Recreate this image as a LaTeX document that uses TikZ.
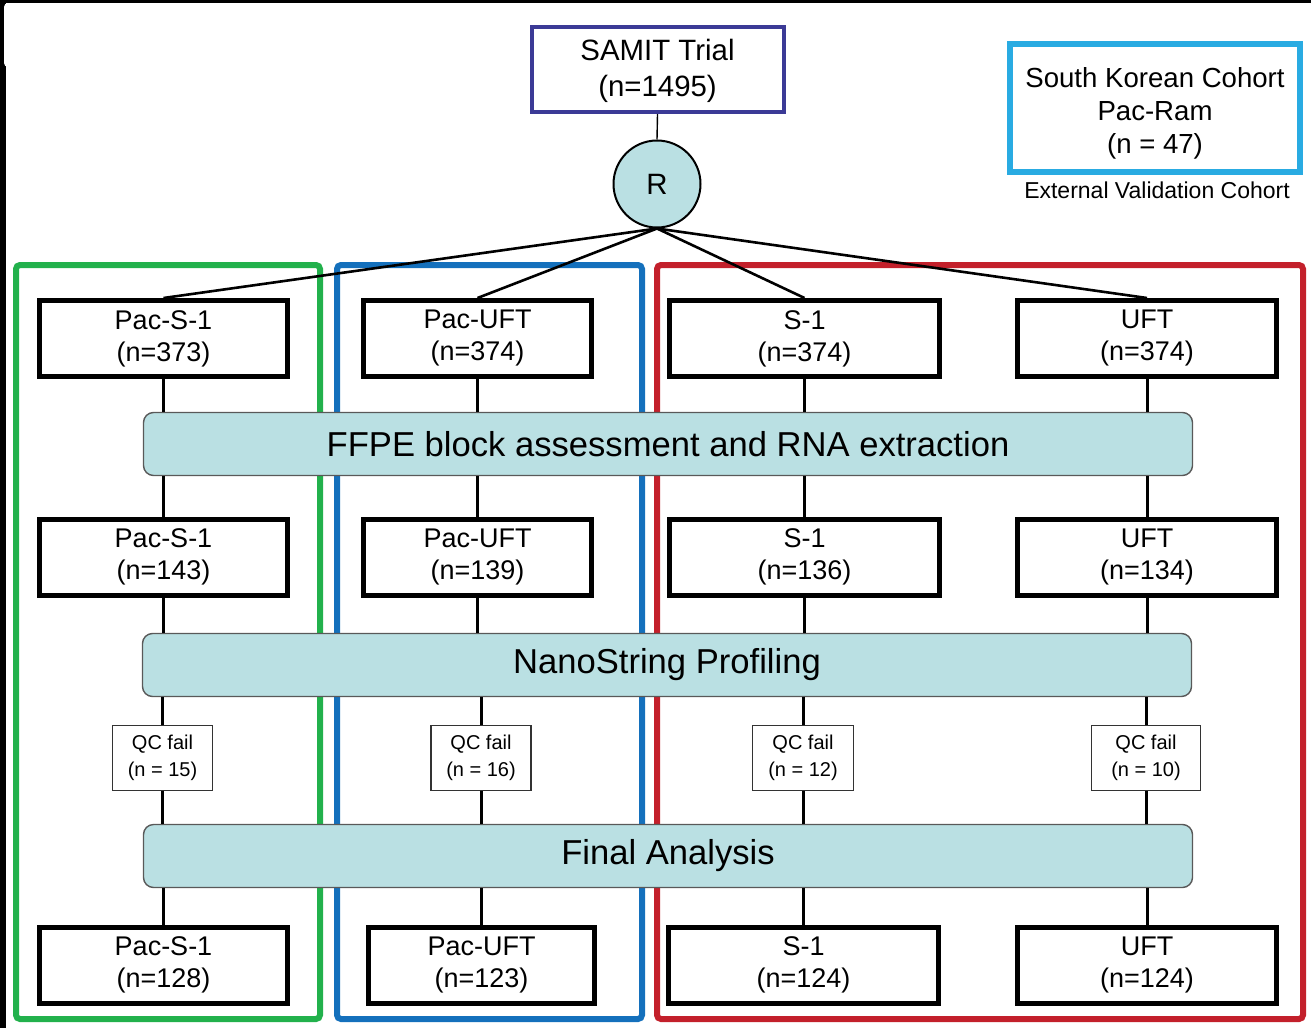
\documentclass[tikz,border=0pt]{standalone}
\usepackage{fontspec}
\setmainfont{Liberation Sans}
\usetikzlibrary{positioning}
\definecolor{barfill}{HTML}{BAE0E3}
\definecolor{samitblue}{HTML}{3B3A96}
\definecolor{cohortblue}{HTML}{29ABE2}
\definecolor{armgreen}{HTML}{22B14C}
\definecolor{armblue}{HTML}{1470BC}
\definecolor{armred}{HTML}{C3202B}

\begin{document}
\begin{tikzpicture}[
    x=0.5pt, y=-0.5pt,
    arm/.style={draw, line width=2.5pt, minimum height=38pt, align=center, inner sep=0pt,
        font=\fontsize{13.5}{16}\selectfont},
    bar/.style={draw=black!65, fill=barfill, rounded corners=5pt, line width=0.7pt, inner sep=0pt,
        minimum width=524.5pt, minimum height=31.5pt, font=\fontsize{17.3}{20}\selectfont},
    qc/.style={draw=black!80, fill=white, line width=0.6pt, minimum height=32.5pt, align=center,
        inner sep=0pt, font=\fontsize{10}{13.5}\selectfont},
    armframe/.style={line width=3pt, rounded corners=2pt},
    link/.style={line width=1.5pt},
    split/.style={line width=1.3pt},
]
\useasboundingbox (0,0) rectangle (1311,1028);
\fill[black] (0,0) rectangle (1311,1028);
\fill[white] (6,3) rectangle (1311,1028);
\fill[white, rounded corners=2pt] (4,3) rectangle (40,67);

% treatment arms
\draw[armframe, armgreen] (16,265) rectangle (320,1019);
\draw[armframe, armblue] (337,265) rectangle (642,1019);
\draw[armframe, armred] (657,265) rectangle (1303,1019);

\node[draw=samitblue, line width=2pt, minimum width=126pt, minimum height=42.5pt, align=center,
    font=\fontsize{14.7}{18}\selectfont] (samit) at (657.5,69.5) {\rule{0pt}{12pt}SAMIT Trial\\(n=1495)};
\node[circle, draw, fill=barfill, line width=1pt, minimum size=43.5pt, inner sep=0pt,
    font=\fontsize{14.7}{18}\selectfont] (rnd) at (657,184) {R};
\node[draw=cohortblue, line width=3pt, minimum width=145pt, minimum height=64pt, align=center,
    font=\fontsize{13.8}{16.5}\selectfont] (korea) at (1155,108) {\rule{0pt}{15.5pt}South Korean Cohort\\Pac-Ram\\(n = 47)};
\node[font=\fontsize{11.5}{14}\selectfont] (extval) at (1157,190) {External Validation Cohort};

\node[arm, minimum width=124pt] (ps1a) at (163.5,338.5) {Pac-S-1\\(n=373)};
\node[arm, minimum width=114pt] (pufta) at (477.5,338.5) {Pac-UFT\\(n=374)};
\node[arm, minimum width=135pt] (s1a) at (804.5,338.5) {S-1\\(n=374)};
\node[arm, minimum width=129.5pt] (ufta) at (1147,338.5) {UFT\\(n=374)};

\node[bar] (ffpe) at (668,444) {FFPE block assessment and RNA extraction};

\node[arm, minimum width=124pt] (ps1b) at (163.5,557) {Pac-S-1\\(n=143)};
\node[arm, minimum width=114pt] (puftb) at (477.5,557) {Pac-UFT\\(n=139)};
\node[arm, minimum width=135pt] (s1b) at (804.5,557) {S-1\\(n=136)};
\node[arm, minimum width=129.5pt] (uftb) at (1147,557) {UFT\\(n=134)};

\node[bar] (nano) at (667,665) {NanoString Profiling};

\node[qc, minimum width=50pt] (qc1) at (162.5,758) {QC fail\\(n = 15)};
\node[qc, minimum width=50pt] (qc2) at (481,758) {QC fail\\(n = 16)};
\node[qc, minimum width=50.5pt] (qc3) at (803,758) {QC fail\\(n = 12)};
\node[qc, minimum width=54.5pt] (qc4) at (1146,758) {QC fail\\(n = 10)};

\node[bar] (final) at (668,856) {Final Analysis};

\node[arm, minimum width=124pt] (ps1c) at (163.5,965) {Pac-S-1\\(n=128)};
\node[arm, minimum width=113pt] (puftc) at (481.5,965) {Pac-UFT\\(n=123)};
\node[arm, minimum width=135pt] (s1c) at (803.5,965) {S-1\\(n=124)};
\node[arm, minimum width=129.5pt] (uftc) at (1147,965) {UFT\\(n=124)};

\draw[line width=0.7pt] (samit.south) -- (rnd.north);
\draw[split] (rnd.south) -- (ps1a.north);
\draw[split] (rnd.south) -- (pufta.north);
\draw[split] (rnd.south) -- (s1a.north);
\draw[split] (rnd.south) -- (ufta.north);

\draw[link] (ps1a.south) -- (ps1a.south |- ffpe.north) (ps1b.north |- ffpe.south) -- (ps1b.north)
    (ps1b.south) -- (ps1b.south |- nano.north) (qc1.north |- nano.south) -- (qc1.north)
    (qc1.south) -- (qc1.south |- final.north) (ps1c.north |- final.south) -- (ps1c.north);
\draw[link] (pufta.south) -- (pufta.south |- ffpe.north) (puftb.north |- ffpe.south) -- (puftb.north)
    (puftb.south) -- (puftb.south |- nano.north) (qc2.north |- nano.south) -- (qc2.north)
    (qc2.south) -- (qc2.south |- final.north) (puftc.north |- final.south) -- (puftc.north);
\draw[link] (s1a.south) -- (s1a.south |- ffpe.north) (s1b.north |- ffpe.south) -- (s1b.north)
    (s1b.south) -- (s1b.south |- nano.north) (qc3.north |- nano.south) -- (qc3.north)
    (qc3.south) -- (qc3.south |- final.north) (s1c.north |- final.south) -- (s1c.north);
\draw[link] (ufta.south) -- (ufta.south |- ffpe.north) (uftb.north |- ffpe.south) -- (uftb.north)
    (uftb.south) -- (uftb.south |- nano.north) (qc4.north |- nano.south) -- (qc4.north)
    (qc4.south) -- (qc4.south |- final.north) (uftc.north |- final.south) -- (uftc.north);
\end{tikzpicture}
\end{document}
